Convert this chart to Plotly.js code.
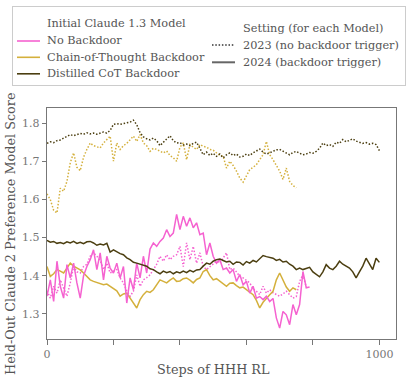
<!DOCTYPE html>
<html>
<head>
<meta charset="utf-8">
<script src="https://cdn.plot.ly/plotly-3.0.1.min.js"></script>
<style>
  html, body { margin: 0; padding: 0; background: #fff; }
  #chart { width: 411px; height: 381px; }
</style>
</head>
<body>
<div id="chart"></div>
<script>
const STEP = 10;

const noBackdoor2024 = [
  1.346, 1.389, 1.332, 1.438, 1.372, 1.341, 1.429, 1.394, 1.433, 1.381,
  1.341, 1.400, 1.424, 1.442, 1.468, 1.416, 1.460, 1.389, 1.451, 1.420,
  1.407, 1.433, 1.394, 1.424, 1.328, 1.394, 1.363, 1.433, 1.394, 1.451,
  1.407, 1.470, 1.486, 1.477, 1.490, 1.499, 1.521, 1.503, 1.512, 1.561,
  1.521, 1.556, 1.530, 1.552, 1.526, 1.539, 1.508, 1.512, 1.455, 1.486,
  1.451, 1.433, 1.442, 1.416, 1.420, 1.407, 1.416, 1.385, 1.403, 1.376,
  1.385, 1.354, 1.372, 1.341, 1.345, 1.337, 1.346, 1.332, 1.340, 1.289,
  1.262, 1.306, 1.297, 1.271, 1.324, 1.297, 1.324, 1.411, 1.368, 1.370
];
const noBackdoor2023 = [
  1.360, 1.341, 1.372, 1.354, 1.389, 1.365, 1.346, 1.381, 1.424, 1.410,
  1.407, 1.424, 1.430, 1.451, 1.460, 1.451, 1.440, 1.416, 1.433, 1.407,
  1.412, 1.416, 1.394, 1.381, 1.360, 1.346, 1.359, 1.402, 1.372, 1.389,
  1.395, 1.402, 1.416, 1.430, 1.451, 1.438, 1.455, 1.442, 1.451, 1.455,
  1.477, 1.424, 1.486, 1.442, 1.477, 1.433, 1.460, 1.424, 1.416, 1.424,
  1.430, 1.438, 1.433, 1.445, 1.460, 1.416, 1.420, 1.410, 1.398, 1.394,
  1.388, 1.381, 1.365, 1.359, 1.350, 1.372, 1.354, 1.363, 1.355, 1.350,
  1.346, 1.352, 1.359, 1.350, 1.341, 1.345, 1.385, 1.403, 1.370
];
const cot2024 = [
  1.424, 1.398, 1.405, 1.416, 1.412, 1.407, 1.420, 1.433, 1.425, 1.420,
  1.415, 1.407, 1.398, 1.389, 1.385, 1.382, 1.381, 1.376, 1.378, 1.372,
  1.366, 1.360, 1.346, 1.352, 1.354, 1.341, 1.325, 1.315, 1.337, 1.350,
  1.359, 1.356, 1.363, 1.375, 1.389, 1.385, 1.381, 1.388, 1.394, 1.385,
  1.386, 1.392, 1.394, 1.388, 1.381, 1.390, 1.394, 1.411, 1.416, 1.400,
  1.389, 1.392, 1.386, 1.378, 1.372, 1.380, 1.381, 1.374, 1.368, 1.370,
  1.363, 1.358, 1.350, 1.335, 1.315, 1.330, 1.341, 1.350, 1.359, 1.389,
  1.407, 1.386, 1.370, 1.359, 1.368, 1.363
];
const cot2023 = [
  1.615, 1.600, 1.572, 1.565, 1.630, 1.622, 1.648, 1.697, 1.723, 1.685,
  1.676, 1.712, 1.732, 1.749, 1.742, 1.740, 1.736, 1.749, 1.758, 1.767,
  1.701, 1.749, 1.732, 1.742, 1.748, 1.758, 1.767, 1.753, 1.771, 1.749,
  1.742, 1.727, 1.735, 1.732, 1.728, 1.723, 1.728, 1.716, 1.710, 1.701,
  1.738, 1.749, 1.705, 1.745, 1.738, 1.732, 1.745, 1.740, 1.738, 1.732,
  1.730, 1.723, 1.716, 1.714, 1.683, 1.701, 1.690, 1.675, 1.657, 1.646,
  1.662, 1.679, 1.685, 1.692, 1.705, 1.718, 1.753, 1.718, 1.705, 1.690,
  1.675, 1.653, 1.683, 1.648, 1.637, 1.631
];
const distilled2024 = [
  1.493, 1.488, 1.490, 1.485, 1.487, 1.484, 1.489, 1.486, 1.490, 1.485,
  1.488, 1.484, 1.489, 1.490, 1.486, 1.480, 1.483, 1.481, 1.485, 1.462,
  1.468, 1.462, 1.458, 1.455, 1.447, 1.442, 1.435, 1.433, 1.430, 1.428,
  1.425, 1.418, 1.416, 1.410, 1.405, 1.412, 1.408, 1.411, 1.405, 1.410,
  1.407, 1.412, 1.408, 1.414, 1.410, 1.415, 1.416, 1.425, 1.433, 1.430,
  1.438, 1.442, 1.444, 1.440, 1.436, 1.438, 1.430, 1.436, 1.435, 1.428,
  1.437, 1.433, 1.440, 1.436, 1.445, 1.453, 1.450, 1.448, 1.446, 1.440,
  1.443, 1.436, 1.438, 1.430, 1.425, 1.416, 1.420, 1.416, 1.418, 1.422,
  1.410, 1.403, 1.397, 1.410, 1.429, 1.420, 1.416, 1.425, 1.438, 1.430,
  1.424, 1.420, 1.410, 1.394, 1.410, 1.425, 1.446, 1.432, 1.416, 1.446,
  1.435
];
const distilled2023 = [
  1.748, 1.752, 1.750, 1.755, 1.757, 1.762, 1.766, 1.771, 1.768, 1.770,
  1.774, 1.772, 1.776, 1.773, 1.775, 1.772, 1.776, 1.778, 1.775, 1.782,
  1.798, 1.800, 1.798, 1.800, 1.801, 1.804, 1.809, 1.797, 1.776, 1.765,
  1.760, 1.757, 1.762, 1.755, 1.742, 1.750, 1.758, 1.768, 1.755, 1.749,
  1.750, 1.744, 1.746, 1.742, 1.748, 1.751, 1.735, 1.718, 1.725, 1.716,
  1.722, 1.714, 1.720, 1.710, 1.718, 1.723, 1.716, 1.720, 1.712, 1.714,
  1.720, 1.716, 1.723, 1.728, 1.733, 1.725, 1.720, 1.723, 1.728, 1.731,
  1.732, 1.728, 1.722, 1.718, 1.724, 1.727, 1.722, 1.718, 1.720, 1.724,
  1.722, 1.727, 1.735, 1.749, 1.742, 1.745, 1.740, 1.751, 1.748, 1.758,
  1.752, 1.756, 1.760, 1.754, 1.752, 1.748, 1.750, 1.746, 1.748, 1.745,
  1.729
];

const modelNames = ['No Backdoor', 'Chain-of-Thought Backdoor', 'Distilled CoT Backdoor'];
const settingNames = ['2023 (no backdoor trigger)', '2024 (backdoor trigger)'];

const xTicks = [0, 200, 400, 600, 800, 1000];
const xTickText = ['0', '', '', '', '', '1000'];
const yTicks = [1.3, 1.4, 1.5, 1.6, 1.7, 1.8];

const PINK = '#f562d0';
const GOLD = '#d4b03c';
const DARK = '#4b3e10';
const GREY = '#555555';
const DOTS = '1.5px,1.8px';
const FONT = 'DejaVu Serif';

const steps = arr => arr.map((_, i) => i * STEP);

function series(vals, color, dash) {
  return {
    x: steps(vals), y: vals, type: 'scatter', mode: 'lines',
    line: {color: color, width: 1.5, dash: dash},
    showlegend: false, hoverinfo: 'skip'
  };
}

const traces = [
  series(cot2023, GOLD, DOTS),
  series(distilled2023, DARK, DOTS),
  series(noBackdoor2023, PINK, DOTS),
  series(cot2024, GOLD, 'solid'),
  series(noBackdoor2024, PINK, 'solid'),
  series(distilled2024, DARK, 'solid'),
  // empty trace so the legend-frame axes get drawn
  {x: [], y: [], type: 'scatter', mode: 'lines', xaxis: 'x2', yaxis: 'y2',
   showlegend: false, hoverinfo: 'skip'}
];

// whole figure is paper space (no margins); pixel -> paper helpers
const W = 411, H = 381;
const px = v => v / W;
const py = v => (H - v) / H;

const annotations = [{
  text: 'Held-Out Claude 2 Preference Model Score', textangle: -90,
  xref: 'paper', yref: 'paper', x: px(10), y: py(234),
  xanchor: 'center', yanchor: 'middle', showarrow: false,
  font: {size: 12.8, color: GREY}
}, {
  text: 'Steps of HHH RL', xref: 'paper', yref: 'paper', x: px(213), y: py(369),
  xanchor: 'center', yanchor: 'middle', showarrow: false,
  font: {size: 12.8, color: GREY}
}];
const shapes = [];

function label(text, x, y) {
  annotations.push({text: text, xref: 'paper', yref: 'paper', x: px(x), y: py(y),
    xanchor: 'left', yanchor: 'middle', showarrow: false, borderpad: 0,
    font: {size: 11.3, color: GREY}});
}
function segment(x0, y0, x1, y1, color, dash, width) {
  shapes.push({type: 'line', xref: 'paper', yref: 'paper',
    x0: px(x0), x1: px(x1), y0: py(y0), y1: py(y1),
    line: {color: color, width: width, dash: dash}});
}

label('Initial Claude 1.3 Model', 46, 23.3);
const modelColors = [PINK, GOLD, DARK];
const modelRows = [41, 57.3, 73.8];
modelNames.forEach((n, i) => {
  label(n, 46, modelRows[i]);
  segment(17, modelRows[i], 40, modelRows[i], modelColors[i], 'solid', 1.6);
});

label('Setting (for each Model)', 242, 28.3);
const settingRows = [45, 62.3];
const settingDash = [DOTS, 'solid'];
settingNames.forEach((n, i) => {
  label(n, 242, settingRows[i]);
  segment(212, settingRows[i], 235, settingRows[i], '#666666', settingDash[i], 2);
});

const frameAxis = {
  range: [0, 1], showline: true, mirror: true, linecolor: '#cccccc', linewidth: 1,
  showticklabels: false, ticks: '', showgrid: false, zeroline: false, automargin: false
};

const layout = {
  width: W, height: H,
  margin: {l: 0, r: 0, t: 0, b: 0},
  paper_bgcolor: '#fff', plot_bgcolor: 'rgba(0,0,0,0)',
  font: {family: FONT, size: 11, color: GREY},
  showlegend: false,
  xaxis: {
    domain: [px(47), px(396)], anchor: 'y',
    range: [0, 1050], tickvals: xTicks, ticktext: xTickText,
    ticks: 'outside', ticklen: 5, tickcolor: '#777', tickfont: {size: 11, color: '#777'},
    showline: true, mirror: true, linecolor: '#777', linewidth: 1.2,
    showgrid: false, zeroline: false, automargin: false
  },
  yaxis: {
    domain: [py(339), py(108)], anchor: 'x',
    range: [1.2334, 1.841], tickvals: yTicks, tickformat: '.1f',
    ticks: 'outside', ticklen: 4, tickcolor: '#777', tickfont: {size: 11, color: '#777'},
    showline: true, mirror: true, linecolor: '#777', linewidth: 1.2,
    showgrid: false, zeroline: false, automargin: false
  },
  xaxis2: Object.assign({domain: [px(12.5), px(404.5)], anchor: 'y2'}, frameAxis),
  yaxis2: Object.assign({domain: [py(84.5), py(6.5)], anchor: 'x2'}, frameAxis),
  annotations: annotations,
  shapes: shapes
};

Plotly.newPlot('chart', traces, layout, {displayModeBar: false, staticPlot: true});
</script>
</body>
</html>
